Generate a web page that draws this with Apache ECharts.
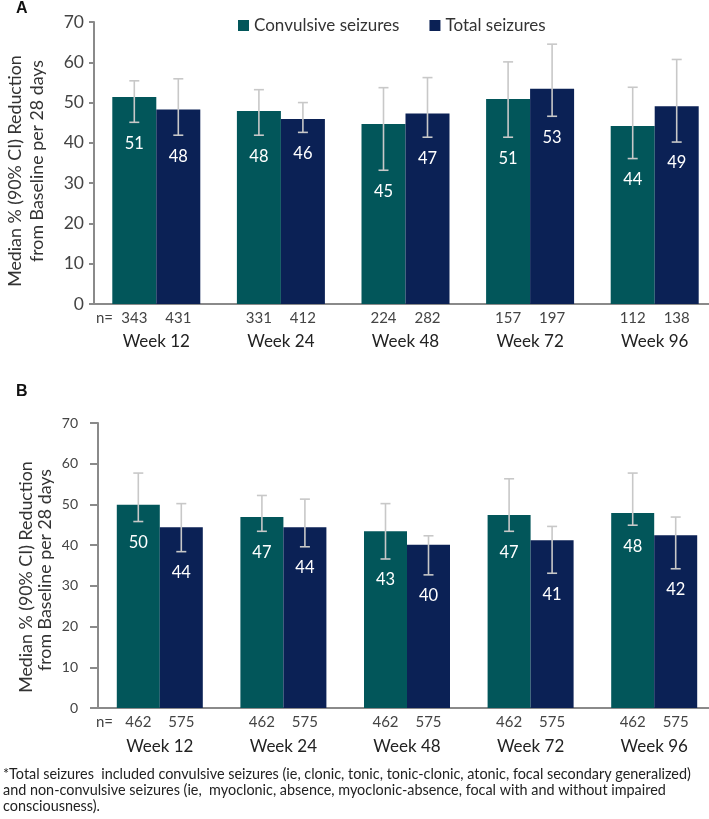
<!DOCTYPE html>
<html><head><meta charset="utf-8">
<script src="https://cdn.jsdelivr.net/npm/echarts@6/dist/echarts.min.js"></script>
<style>html,body{margin:0;padding:0;background:#fff}#c{width:709px;height:819px}</style>
</head><body><div id="c"></div>
<script>
const weeks = ['Week 12', 'Week 24', 'Week 48', 'Week 72', 'Week 96'];
const seriesNames = ['Convulsive seizures', 'Total seizures'];
const yTicks = [0, 10, 20, 30, 40, 50, 60, 70];

// Panel A
const aConvMedian = [51.4, 47.9, 44.7, 50.9, 44.2];
const aConvLow    = [45.1, 41.9, 33.2, 41.4, 36.1];
const aConvHigh   = [55.4, 53.2, 53.7, 60.1, 53.8];
const aConvN      = [343, 331, 224, 157, 112];
const aTotMedian  = [48.3, 45.9, 47.3, 53.4, 49.1];
const aTotLow     = [41.9, 42.6, 41.4, 46.6, 40.2];
const aTotHigh    = [55.9, 50.0, 56.2, 64.5, 60.7];
const aTotN       = [431, 412, 282, 197, 138];

// Panel B
const bConvMedian = [49.9, 46.9, 43.4, 47.4, 47.9];
const bConvLow    = [45.8, 43.4, 36.6, 43.4, 44.9];
const bConvHigh   = [57.7, 52.2, 50.2, 56.3, 57.7];
const bConvN      = [462, 462, 462, 462, 462];
const bTotMedian  = [44.4, 44.4, 40.1, 41.2, 42.4];
const bTotLow     = [38.4, 39.6, 32.7, 33.1, 34.2];
const bTotHigh    = [50.2, 51.3, 42.3, 44.6, 46.9];
const bTotN       = [575, 575, 575, 575, 575];

const footnote = [
  '*Total seizures  included convulsive seizures (ie, clonic, tonic, tonic-clonic, atonic, focal secondary generalized)',
  'and non-convulsive seizures (ie,  myoclonic, absence, myoclonic-absence, focal with and without impaired',
  'consciousness).'
];

const TEAL = '#02565a';
const NAVY = '#0b2155';
const FONT = 'Lato, "Open Sans", sans-serif';

function rows(med, lo, hi, n) {
  return med.map((m, i) => [i, m, lo[i], hi[i], n[i]]);
}

function makeRender(sign, barW, nOffset, labelOffset) {
  return function (params, api) {
    const i = api.value(0);
    const pLo = api.coord([i, api.value(2)]);
    const pHi = api.coord([i, api.value(3)]);
    const p0 = api.coord([i, 0]);
    const x = pLo[0] + sign * barW / 2;
    const cap = 5;
    const st = { stroke: '#c8c8c8', lineWidth: 1.6 };
    return {
      type: 'group',
      children: [
        { type: 'line', shape: { x1: x, y1: pLo[1], x2: x, y2: pHi[1] }, style: st },
        { type: 'line', shape: { x1: x - cap, y1: pLo[1], x2: x + cap, y2: pLo[1] }, style: st },
        { type: 'line', shape: { x1: x - cap, y1: pHi[1], x2: x + cap, y2: pHi[1] }, style: st },
        { type: 'text', x: x, y: pLo[1] + labelOffset,
          style: { text: String(Math.round(api.value(1))), fill: '#ffffff', font: '16.5px ' + FONT, align: 'center', verticalAlign: 'middle' } },
        { type: 'text', x: x, y: p0[1] + nOffset,
          style: { text: String(api.value(4)), fill: '#444', font: '15px ' + FONT, align: 'center', verticalAlign: 'middle' } }
      ]
    };
  };
}

const chart = echarts.init(document.getElementById('c'), null, { renderer: 'canvas' });

const axisLineStyle = { color: '#8a8a8a', width: 2 };

function yAxis(gridIndex, fontSize, margin, tickLen) {
  return {
    type: 'value', gridIndex, min: yTicks[0], max: yTicks[yTicks.length - 1], interval: yTicks[1] - yTicks[0],
    splitLine: { show: false },
    axisLine: { show: true, lineStyle: axisLineStyle },
    axisTick: { show: true, length: tickLen, lineStyle: axisLineStyle },
    axisLabel: { fontSize, color: '#444', fontFamily: FONT, margin }
  };
}
function xAxis(gridIndex, margin) {
  return {
    type: 'category', gridIndex, data: weeks,
    axisLine: { show: true, lineStyle: axisLineStyle },
    axisTick: { show: false },
    axisLabel: { fontSize: 17, color: '#222', fontFamily: FONT, margin, interval: 0 }
  };
}

const option = {
  animation: false,
  backgroundColor: '#ffffff',
  legend: {
    data: seriesNames, left: 233, top: 12, icon: 'rect', itemWidth: 11, itemHeight: 11, itemGap: 30,
    textStyle: { fontSize: 17, color: '#333', fontFamily: FONT }
  },
  grid: [
    { left: 94, top: 22, height: 282, right: -8, containLabel: false, outerBoundsMode: 'none' },
    { left: 98, top: 423, height: 285, right: -7, containLabel: false, outerBoundsMode: 'none' }
  ],
  xAxis: [xAxis(0, 29), xAxis(1, 30)],
  yAxis: [yAxis(0, 17.5, 10, 5), yAxis(1, 14, 20, 8)],
  series: [
    { name: seriesNames[0], type: 'bar', xAxisIndex: 0, yAxisIndex: 0, data: aConvMedian, barWidth: 44, barGap: '0%', itemStyle: { color: TEAL } },
    { name: seriesNames[1], type: 'bar', xAxisIndex: 0, yAxisIndex: 0, data: aTotMedian, barWidth: 44, barGap: '0%', itemStyle: { color: NAVY } },
    { name: seriesNames[0], type: 'bar', xAxisIndex: 1, yAxisIndex: 1, data: bConvMedian, barWidth: 43, barGap: '0%', itemStyle: { color: TEAL } },
    { name: seriesNames[1], type: 'bar', xAxisIndex: 1, yAxisIndex: 1, data: bTotMedian, barWidth: 43, barGap: '0%', itemStyle: { color: NAVY } },
    { type: 'custom', xAxisIndex: 0, yAxisIndex: 0, z: 5, clip: false, data: rows(aConvMedian, aConvLow, aConvHigh, aConvN), renderItem: makeRender(-1, 44, 14, 21), silent: true },
    { type: 'custom', xAxisIndex: 0, yAxisIndex: 0, z: 5, clip: false, data: rows(aTotMedian, aTotLow, aTotHigh, aTotN), renderItem: makeRender(1, 44, 14, 21), silent: true },
    { type: 'custom', xAxisIndex: 1, yAxisIndex: 1, z: 5, clip: false, data: rows(bConvMedian, bConvLow, bConvHigh, bConvN), renderItem: makeRender(-1, 43, 14, 21), silent: true },
    { type: 'custom', xAxisIndex: 1, yAxisIndex: 1, z: 5, clip: false, data: rows(bTotMedian, bTotLow, bTotHigh, bTotN), renderItem: makeRender(1, 43, 14, 21), silent: true }
  ],
  graphic: [
    { type: 'text', left: 16, top: 1, style: { text: 'A', font: 'bold 16px "Liberation Sans", Arial, sans-serif', fill: '#111' } },
    { type: 'text', left: 16, top: 384, style: { text: 'B', font: 'bold 16px "Liberation Sans", Arial, sans-serif', fill: '#111' } },
    { type: 'text', x: 15, y: 171, rotation: Math.PI / 2, style: { text: 'Median % (90% CI) Reduction', font: '17.8px ' + FONT, fill: '#333', align: 'center', verticalAlign: 'middle' } },
    { type: 'text', x: 37, y: 161, rotation: Math.PI / 2, style: { text: 'from Baseline per 28 days', font: '17.8px ' + FONT, fill: '#333', align: 'center', verticalAlign: 'middle' } },
    { type: 'text', x: 26, y: 577, rotation: Math.PI / 2, style: { text: 'Median % (90% CI) Reduction', font: '17.8px ' + FONT, fill: '#333', align: 'center', verticalAlign: 'middle' } },
    { type: 'text', x: 45, y: 570, rotation: Math.PI / 2, style: { text: 'from Baseline per 28 days', font: '17.8px ' + FONT, fill: '#333', align: 'center', verticalAlign: 'middle' } },
    { type: 'text', x: 96, y: 318, style: { text: 'n=', font: '15px ' + FONT, fill: '#444', verticalAlign: 'middle' } },
    { type: 'text', x: 96, y: 722, style: { text: 'n=', font: '15px ' + FONT, fill: '#444', verticalAlign: 'middle' } },
    { type: 'text', x: 3, y: 766, style: { text: footnote.join('\n'), font: '14.4px ' + FONT, lineHeight: 16, fill: '#222' } }
  ]
};
chart.setOption(option);
</script>
</body></html>
